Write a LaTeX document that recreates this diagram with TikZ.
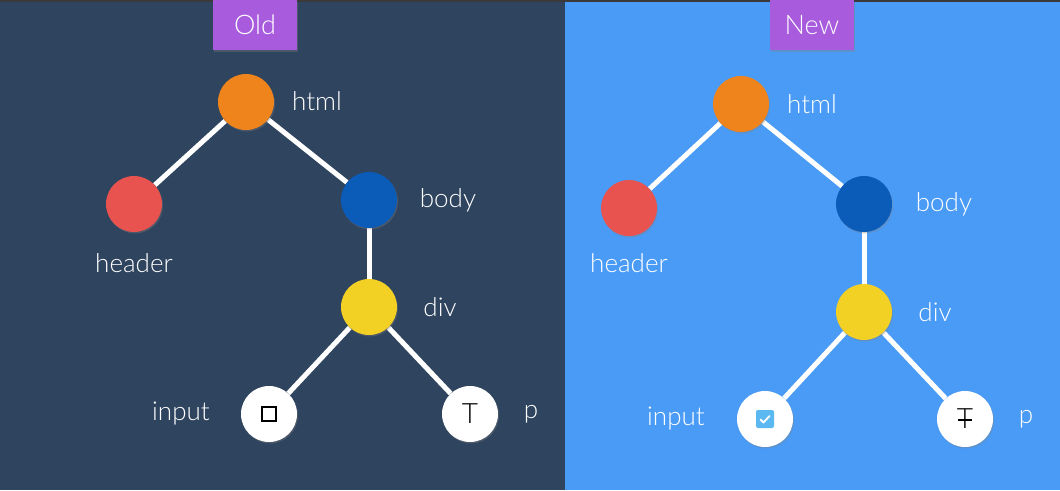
\documentclass[tikz,border=0pt]{standalone}
\usepackage{fontspec}
\setmainfont{Lato Light}
\usetikzlibrary{backgrounds,shadows}
\definecolor{leftbg}{HTML}{2F445E}
\definecolor{rightbg}{HTML}{4A9BF5}
\definecolor{topbar}{HTML}{3A3A3A}
\definecolor{tagpurple}{HTML}{A85BDC}
\definecolor{htmlorange}{HTML}{F0841C}
\definecolor{headerred}{HTML}{E9534F}
\definecolor{bodyblue}{HTML}{0B5BB8}
\definecolor{divyellow}{HTML}{F2D024}
\definecolor{checkblue}{HTML}{5BB8F0}
\tikzset{
  elem/.style={circle,minimum size=56pt,inner sep=0pt,draw=none,
    drop shadow={shadow xshift=1pt,shadow yshift=-1.5pt,opacity=0.35}},
  lbl/.style={text=white,font=\fontsize{26}{30}\selectfont,inner sep=0pt},
  tag/.style={fill=tagpurple,text=white,minimum width=84pt,minimum height=50pt,
    font=\fontsize{27}{31}\selectfont,inner sep=0pt,
    drop shadow={shadow xshift=1pt,shadow yshift=-1.5pt,opacity=0.35}},
  edge/.style={draw=white,line width=5pt}
}
\begin{document}
\begin{tikzpicture}[x=1pt,y=-1pt]
        \useasboundingbox (0,0) rectangle (1060,490);

        %%%%%%%%%% Old %%%%%%%%%%
        \node[tag] (oldtag) at (255,25) {Old};
        \node[elem,fill=htmlorange] (ohtml) at (246,102) {};
        \node[elem,fill=headerred] (oheader) at (134,204) {};
        \node[elem,fill=bodyblue] (obody) at (369,200) {};
        \node[elem,fill=divyellow] (odiv) at (369,307) {};
        \node[elem,fill=white] (oinput) at (269,414) {};
        \node[draw=black,line width=1.5pt,minimum size=14pt,inner sep=0pt] (obox) at (oinput) {};
        \node[elem,fill=white,font=\fontsize{28}{32}\selectfont] (op) at (470,414) {T};

        \node[lbl] (ohtmllbl) at (317,101) {html};
        \node[lbl] (oheaderlbl) at (134,263) {header};
        \node[lbl] (obodylbl) at (448,200) {body};
        \node[lbl] (odivlbl) at (440,307) {div};
        \node[lbl] (oinputlbl) at (181,414) {input};
        \node[lbl] (oplbl) at (531,414) {p};

        %%%%%%%%%% New %%%%%%%%%%
        \node[tag] (newtag) at (812,25) {New};
        \node[elem,fill=htmlorange] (nhtml) at (741,104) {};
        \node[elem,fill=headerred] (nheader) at (629,208) {};
        \node[elem,fill=bodyblue] (nbody) at (864,204) {};
        \node[elem,fill=divyellow] (ndiv) at (864,312) {};
        \node[elem,fill=white] (ninput) at (765,419) {};
        \node[fill=checkblue,rounded corners=2pt,minimum size=18pt,inner sep=0pt] (ncheck) at (ninput) {};
        \draw[white,line width=1.8pt,line cap=round,line join=round]
          ([shift={(-4.5,0.5)}]ncheck.center) -- ([shift={(-1.5,3.5)}]ncheck.center) -- ([shift={(4.5,-3)}]ncheck.center);
        \node[elem,fill=white,font=\fontsize{28}{32}\selectfont] (np) at (965,419) {T};
        \draw[black,line width=1.2pt] ([shift={(-7pt,-1pt)}]np.center) -- ([shift={(7pt,-1pt)}]np.center);

        \node[lbl] (nhtmllbl) at (812,104) {html};
        \node[lbl] (nheaderlbl) at (629,263) {header};
        \node[lbl] (nbodylbl) at (944,204) {body};
        \node[lbl] (ndivlbl) at (935,312) {div};
        \node[lbl] (ninputlbl) at (676,419) {input};
        \node[lbl] (nplbl) at (1026,419) {p};

        %%%%%%%%% Sfondo e archi %%%%%%%%%
        \begin{scope}[on background layer]
          \fill[leftbg] (0,0) rectangle (565,490);
          \fill[rightbg] (565,0) rectangle (1060,490);
          \fill[topbar] (0,0) rectangle (1060,1.5);
          \draw[edge] (ohtml) -- (oheader);
          \draw[edge] (ohtml) -- (obody);
          \draw[edge] (obody) -- (odiv);
          \draw[edge] (odiv) -- (oinput);
          \draw[edge] (odiv) -- (op);
          \draw[edge] (nhtml) -- (nheader);
          \draw[edge] (nhtml) -- (nbody);
          \draw[edge] (nbody) -- (ndiv);
          \draw[edge] (ndiv) -- (ninput);
          \draw[edge] (ndiv) -- (np);
        \end{scope}
    \end{tikzpicture}
\end{document}
